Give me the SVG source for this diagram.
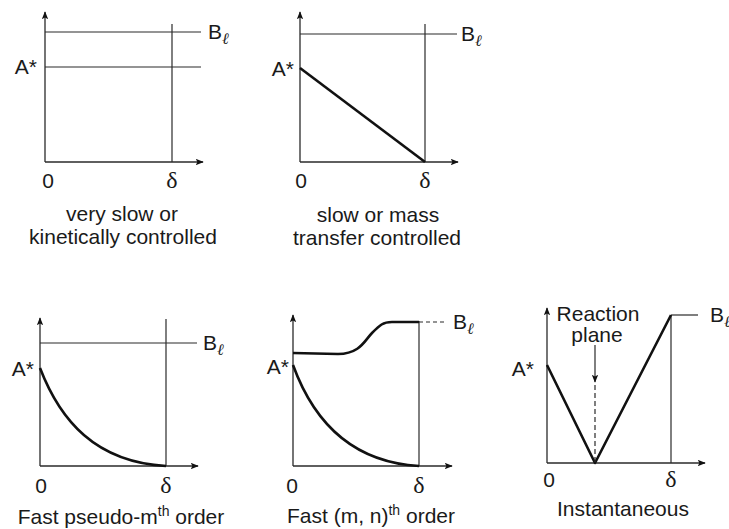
<svg xmlns="http://www.w3.org/2000/svg" width="729" height="529" viewBox="0 0 729 529">
<defs>
<style>
.ax{stroke:#2a2a2a;stroke-width:1.3;fill:none}
.thin{stroke:#2a2a2a;stroke-width:1.2;fill:none}
.thick{stroke:#111;stroke-width:2.6;fill:none;stroke-linejoin:round}
.t{font-family:"Liberation Sans",Arial,sans-serif;font-size:21px;fill:#1a1a1a}
.d{font-family:"Liberation Serif","Times New Roman",serif;font-size:24px;fill:#1a1a1a}
.sub{font-family:"Liberation Serif","DejaVu Serif",serif;font-style:italic;font-size:16px}
.sup{font-size:14px}
.m{text-anchor:middle}
.e{text-anchor:end}
</style>
<marker id="ah" viewBox="0 0 10 8" refX="9" refY="4" markerWidth="8" markerHeight="6.4" markerUnits="userSpaceOnUse" orient="auto">
<path d="M0,0 L10,4 L0,8 L2,4 Z" fill="#111"/>
</marker>
</defs>

<g id="panel1">
<path class="ax" d="M45,162 L45,12" marker-end="url(#ah)"/>
<path class="ax" d="M45,162 L203,162" marker-end="url(#ah)"/>
<line class="thin" x1="45" y1="32" x2="201" y2="32"/>
<line class="thin" x1="45" y1="67" x2="201" y2="67"/>
<line class="thin" x1="172" y1="24" x2="172" y2="162"/>
<text class="t" x="208" y="39">B<tspan class="sub" dy="5">ℓ</tspan></text>
<text class="t e" x="37" y="74">A*</text>
<text class="t m" x="48" y="188">0</text>
<text class="d m" x="172" y="188">δ</text>
<text class="t m" x="122" y="221">very slow or</text>
<text class="t m" x="123" y="244">kinetically controlled</text>
</g>

<g id="panel2">
<path class="ax" d="M300,162 L300,12" marker-end="url(#ah)"/>
<path class="ax" d="M300,162 L458,162" marker-end="url(#ah)"/>
<line class="thin" x1="300" y1="34" x2="457" y2="34"/>
<line class="thin" x1="425" y1="24" x2="425" y2="162"/>
<path class="thick" d="M300,68 L425,162"/>
<text class="t" x="461" y="41">B<tspan class="sub" dy="5">ℓ</tspan></text>
<text class="t e" x="294" y="76">A*</text>
<text class="t m" x="301" y="188">0</text>
<text class="d m" x="425" y="188">δ</text>
<text class="t m" x="378" y="222">slow or mass</text>
<text class="t m" x="377" y="245">transfer controlled</text>
</g>

<g id="panel3">
<path class="ax" d="M40,466 L40,318" marker-end="url(#ah)"/>
<path class="ax" d="M40,466 L198,466" marker-end="url(#ah)"/>
<line class="thin" x1="40" y1="343" x2="197" y2="343"/>
<line class="thin" x1="166" y1="319" x2="166" y2="466"/>
<path class="thick" d="M40,368 C60,420 95,462 166,466"/>
<text class="t" x="203" y="350">B<tspan class="sub" dy="5">ℓ</tspan></text>
<text class="t e" x="34" y="376">A*</text>
<text class="t m" x="41" y="493">0</text>
<text class="d m" x="166" y="493">δ</text>
<text class="t m" x="121" y="524">Fast pseudo-m<tspan class="sup" dy="-8">th</tspan><tspan dy="8"> order</tspan></text>
</g>

<g id="panel4">
<path class="ax" d="M293,466 L293,315" marker-end="url(#ah)"/>
<path class="ax" d="M293,466 L452,466" marker-end="url(#ah)"/>
<line class="thin" x1="419" y1="321" x2="419" y2="466"/>
<path class="thick" d="M293,353 L338,354 C360,354 365,340 372,333 C380,325 383,322 392,322 L419,322"/>
<path class="thick" d="M293,365 C313,420 350,462 419,466"/>
<line class="thin" x1="419" y1="322" x2="447" y2="322" stroke-dasharray="4,3" stroke-width="1.6"/>
<text class="t" x="453" y="329">B<tspan class="sub" dy="5">ℓ</tspan></text>
<text class="t e" x="289" y="374">A*</text>
<text class="t m" x="292" y="493">0</text>
<text class="d m" x="419" y="493">δ</text>
<text class="t m" x="371" y="523">Fast (m, n)<tspan class="sup" dy="-8">th</tspan><tspan dy="8"> order</tspan></text>
</g>

<g id="panel5">
<path class="ax" d="M547,463 L547,308" marker-end="url(#ah)"/>
<path class="ax" d="M547,463 L705,463" marker-end="url(#ah)"/>
<line class="thin" x1="671" y1="315" x2="671" y2="463"/>
<line class="thin" x1="671" y1="315" x2="698" y2="315"/>
<path class="thick" d="M547,365 L595,463 L671,315"/>
<line class="thin" x1="595" y1="385" x2="595" y2="463" stroke-dasharray="5,3"/>
<text class="t" x="710" y="322">B<tspan class="sub" dy="5">ℓ</tspan></text>
<text class="t e" x="534" y="376">A*</text>
<text class="t m" x="549" y="487">0</text>
<text class="d m" x="671" y="487">δ</text>
<text class="t m" x="598" y="321">Reaction</text>
<text class="t m" x="597" y="342">plane</text>
<text class="t m" x="623" y="516">Instantaneous</text>
</g>

<g id="connectors">
<path class="thin" d="M595,345 L595,382" marker-end="url(#ah)"/>
</g>
</svg>
